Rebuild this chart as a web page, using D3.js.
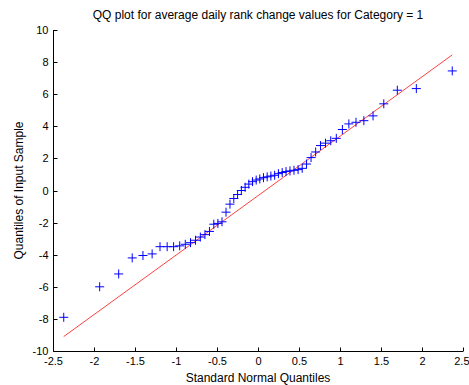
<!DOCTYPE html>
<html>
<head>
<meta charset="utf-8">
<script src="https://cdn.jsdelivr.net/npm/d3@7"></script>
<style>
  body { margin: 0; background: #fff; }
  svg { display: block; font-family: "Liberation Sans", Arial, sans-serif; }
</style>
</head>
<body>
<svg id="chart" width="469" height="385"></svg>
<script>
// standard normal quantiles of the 56 sorted samples (x of each marker)
const normalQuantiles = [
  -2.369, -1.931, -1.699, -1.534, -1.403, -1.291, -1.195, -1.108,
  -1.029, -0.955, -0.887, -0.823, -0.762, -0.703, -0.647, -0.592,
  -0.539, -0.489, -0.439, -0.390, -0.342, -0.295, -0.249, -0.203,
  -0.157, -0.112, -0.067, -0.022,
  0.022, 0.067, 0.112, 0.157, 0.203, 0.249, 0.295, 0.342,
  0.390, 0.439, 0.489, 0.539, 0.592, 0.647, 0.703, 0.762,
  0.823, 0.887, 0.955, 1.029, 1.108, 1.195, 1.291, 1.403,
  1.534, 1.699, 1.931, 2.369,
];

// sorted sample values (y of each marker)
const sampleQuantiles = [
  -7.9, -6.0, -5.2, -4.2, -4.05, -3.95, -3.5, -3.5,
  -3.5, -3.45, -3.35, -3.25, -3.1, -2.9, -2.75, -2.55,
  -2.1, -2.05, -1.95, -1.35, -0.85, -0.5, -0.25, 0.0,
  0.2, 0.4, 0.55, 0.65,
  0.72, 0.8, 0.85, 0.9, 0.95, 1.05, 1.12, 1.18,
  1.22, 1.26, 1.3, 1.38, 1.65, 2.05, 2.4, 2.8,
  2.95, 3.1, 3.25, 3.8, 4.15, 4.25, 4.35, 4.65,
  5.4, 6.25, 6.35, 7.45,
];

// reference line end points
const refLineX = [-2.369, 2.369];
const refLineY = [-9.1, 8.45];

const xTicks = [-2.5, -2, -1.5, -1, -0.5, 0, 0.5, 1, 1.5, 2, 2.5];
const yTicks = [-10, -8, -6, -4, -2, 0, 2, 4, 6, 8, 10];

const titleText = "QQ plot for average daily rank change values for Category = 1";
const xLabelText = "Standard Normal Quantiles";
const yLabelText = "Quantiles of Input Sample";

const svg = d3.select("#chart");
const margin = { left: 53, right: 6, top: 30, bottom: 34 };
const width = 469;
const height = 385;
const tickLen = 4;

const xScale = d3
  .scaleLinear()
  .domain([-2.5, 2.5])
  .range([margin.left, width - margin.right]);
const yScale = d3
  .scaleLinear()
  .domain([-10, 10])
  .range([height - margin.bottom, margin.top]);

const x0 = Math.round(xScale(-2.5)) + 0.5;
const y0 = Math.round(yScale(-10)) + 0.5;

// plain hyphen minus, as in the original
const fmt = (d) => String(d);

// Axis labels from d3 axes
svg
  .append("g")
  .attr("transform", `translate(0, ${y0})`)
  .call(d3.axisBottom(xScale).tickValues(xTicks).tickSize(0).tickPadding(6).tickFormat(fmt))
  .call((g) => g.select(".domain").remove())
  .call((g) =>
    g
      .selectAll(".tick text")
      .style("font-size", "11px")
      .attr("fill", "#000")
      .attr("font-family", null)
  )
  .call((g) =>
    g
      .selectAll(".tick text")
      .filter((d) => d === 2.5)
      .attr("text-anchor", "end")
      .attr("x", 6)
  );

svg
  .append("g")
  .attr("transform", `translate(${x0}, 0)`)
  .call(d3.axisLeft(yScale).tickValues(yTicks).tickSize(0).tickPadding(5).tickFormat(fmt))
  .call((g) => g.select(".domain").remove())
  .call((g) =>
    g
      .selectAll(".tick text")
      .style("font-size", "11px")
      .attr("fill", "#000")
      .attr("font-family", null)
  );

// Axis lines and inward ticks (matlab style, box off)
const frame = svg.append("g").attr("stroke", "#000").attr("stroke-width", 1);
frame
  .append("line")
  .attr("x1", x0)
  .attr("x2", x0)
  .attr("y1", yScale(10))
  .attr("y2", y0);
frame
  .append("line")
  .attr("x1", x0)
  .attr("x2", xScale(2.5))
  .attr("y1", y0)
  .attr("y2", y0);
frame
  .selectAll(".xtick")
  .data(xTicks)
  .join("line")
  .attr("class", "xtick")
  .attr("x1", (d) => Math.round(xScale(d)) + 0.5)
  .attr("x2", (d) => Math.round(xScale(d)) + 0.5)
  .attr("y1", y0)
  .attr("y2", y0 - tickLen);
frame
  .selectAll(".ytick")
  .data(yTicks)
  .join("line")
  .attr("class", "ytick")
  .attr("x1", x0)
  .attr("x2", x0 + tickLen)
  .attr("y1", (d) => Math.round(yScale(d)) + 0.5)
  .attr("y2", (d) => Math.round(yScale(d)) + 0.5);

// Reference line
svg
  .append("line")
  .attr("x1", xScale(refLineX[0]))
  .attr("y1", yScale(refLineY[0]))
  .attr("x2", xScale(refLineX[1]))
  .attr("y2", yScale(refLineY[1]))
  .attr("stroke", "#ff0000")
  .attr("stroke-width", 1)
  .attr("stroke-opacity", 0.75);

// Markers
const half = 4.5;
const points = normalQuantiles.map((x, i) => ({ x, y: sampleQuantiles[i] }));
svg
  .append("g")
  .selectAll("path")
  .data(points)
  .join("path")
  .attr("d", (d) => {
    const cx = xScale(d.x);
    const cy = yScale(d.y);
    return `M${cx - half},${cy}H${cx + half}M${cx},${cy - half}V${cy + half}`;
  })
  .attr("stroke", "#0000ff")
  .attr("stroke-width", 1)
  .attr("fill", "none");

// Texts
svg
  .append("text")
  .attr("x", (xScale(-2.5) + xScale(2.5)) / 2)
  .attr("y", 19)
  .attr("text-anchor", "middle")
  .style("font-size", "12px")
  .text(titleText);

svg
  .append("text")
  .attr("x", (xScale(-2.5) + xScale(2.5)) / 2)
  .attr("y", 382)
  .attr("text-anchor", "middle")
  .style("font-size", "12px")
  .text(xLabelText);

svg
  .append("text")
  .attr("transform", `translate(23, ${(yScale(-10) + yScale(10)) / 2}) rotate(-90)`)
  .attr("text-anchor", "middle")
  .style("font-size", "12px")
  .text(yLabelText);
</script>
</body>
</html>
